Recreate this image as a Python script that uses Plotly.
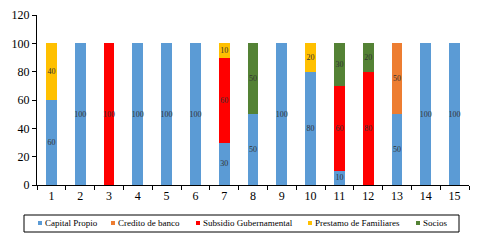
import plotly.graph_objects as go

categories = [str(i) for i in range(1, 16)]
capital_propio = [60, 100, 0, 100, 100, 100, 30, 50, 100, 80, 10, 0, 50, 100, 100]
credito_banco = [0, 0, 0, 0, 0, 0, 0, 0, 0, 0, 0, 0, 50, 0, 0]
subsidio = [0, 0, 100, 0, 0, 0, 60, 0, 0, 0, 60, 80, 0, 0, 0]
prestamo = [40, 0, 0, 0, 0, 0, 10, 0, 0, 20, 0, 0, 0, 0, 0]
socios = [0, 0, 0, 0, 0, 0, 0, 50, 0, 0, 30, 20, 0, 0, 0]
series_names = ["Capital Propio", "Credito de banco", "Subsidio Gubernamental",
                "Prestamo de Familiares", "Socios"]

series_values = [capital_propio, credito_banco, subsidio, prestamo, socios]
colors = ["#5B9BD5", "#ED7D31", "#FF0000", "#FFC000", "#548235"]

W, H = 484, 241
L, R, T, B = 37, 15, 15, 56
pw, ph = W - L - R, H - T - B

def px(x):
    return (x - L) / pw

def py(y):
    return (H - B - y) / ph

fig = go.Figure()
for name, vals, color in zip(series_names, series_values, colors):
    y = [v if v else None for v in vals]
    fig.add_trace(go.Bar(
        x=categories, y=y, name=name, marker=dict(color=color, line=dict(width=0)),
        text=[str(v) if v else "" for v in vals],
        textposition="inside", insidetextanchor="middle", constraintext="none",
        textangle=0,
        textfont=dict(family="Liberation Serif", size=8, color="#333333"),
        showlegend=False, hoverinfo="skip",
    ))

# custom legend (single row, boxed)
legend_sq_x = [38, 111, 196, 308, 416]
legend_y = 223
shapes = [dict(type="rect", xref="paper", yref="paper",
               x0=px(24), x1=px(459), y0=py(215), y1=py(232),
               line=dict(color="black", width=1), fillcolor="rgba(0,0,0,0)")]
annotations = []
for sx, name, color in zip(legend_sq_x, series_names, colors):
    shapes.append(dict(type="rect", xref="paper", yref="paper",
                       x0=px(sx), x1=px(sx + 4), y0=py(legend_y + 2), y1=py(legend_y - 2),
                       line=dict(width=0), fillcolor=color))
    annotations.append(dict(xref="paper", yref="paper", x=px(sx + 5), y=py(legend_y),
                            xanchor="left", yanchor="middle", showarrow=False,
                            text=name, font=dict(family="Liberation Serif", size=9, color="black")))

fig.update_layout(
    barmode="stack", bargap=0.62,
    width=W, height=H,
    margin=dict(l=L, r=R, t=T, b=B, autoexpand=False),
    plot_bgcolor="white", paper_bgcolor="white",
    font=dict(family="Liberation Serif", color="black"),
    showlegend=False,
    shapes=shapes, annotations=annotations,
)
fig.update_xaxes(type="category", tickson="boundaries", ticks="outside", ticklen=4,
                 showline=True, linecolor="black", linewidth=1, tickcolor="black",
                 showgrid=False, tickfont=dict(size=12))
fig.update_yaxes(range=[0, 120], dtick=20, ticks="outside", ticklen=4,
                 showline=True, linecolor="black", linewidth=1, tickcolor="black",
                 showgrid=False, zeroline=False, tickfont=dict(size=12))

fig.write_html("out.html", config={"displayModeBar": False},
               post_script="document.body.style.margin='0px';document.body.style.overflow='hidden';")
